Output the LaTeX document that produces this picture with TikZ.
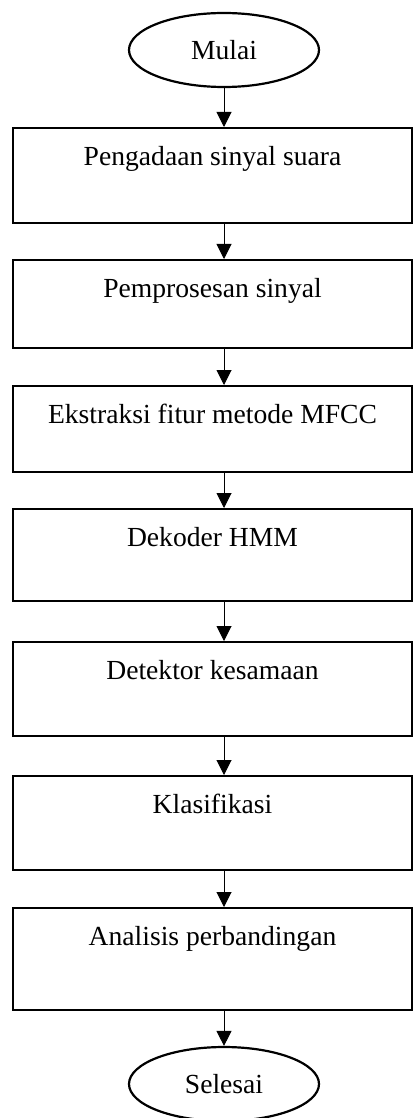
\documentclass[tikz,border=0pt]{standalone}
\usepackage{fontspec}
\setmainfont{Liberation Serif}
\usetikzlibrary{arrows.meta,shapes.geometric}

\begin{document}
\begin{tikzpicture}[x=0.5pt,y=-0.5pt,
    terminal/.style={ellipse,draw,line width=1.1pt,minimum width=95pt,minimum height=37pt,inner sep=0pt},
    proses/.style={draw,line width=1.1pt,anchor=north,minimum width=199.5pt,inner sep=0pt,text height=18.5pt,text depth=#1},
    panah/.style={-{Triangle[length=7.5pt,width=7.5pt]},line width=0.5pt},
    font=\fontsize{13.8}{16}\selectfont]
    \useasboundingbox (0,0) rectangle (413,1118);

    % Start
    \node[terminal] (mulai) at (224,50) {Mulai};

    % Process steps
    \node[proses=29pt] (sinyal) at (212.5,127) {Pengadaan sinyal suara};
    \node[proses=25.5pt] (olah) at (212.5,259) {Pemprosesan sinyal};
    \node[proses=24.5pt] (ekstraksi) at (212.5,385) {Ekstraksi fitur metode MFCC};
    \node[proses=27.5pt] (dekoder) at (212.5,508) {Dekoder HMM};
    \node[proses=28.5pt] (detektor) at (212.5,641) {Detektor kesamaan};
    \node[proses=28.5pt] (klasifikasi) at (212.5,775) {Klasifikasi};
    \node[proses=32.5pt] (analisis) at (212.5,907) {Analisis perbandingan};

    % End
    \node[terminal] (selesai) at (224,1084) {Selesai};

    % Arrows down the flow
    \draw[panah] (mulai) -- (mulai |- sinyal.north);
    \draw[panah] (sinyal.south -| mulai) -- (olah.north -| mulai);
    \draw[panah] (olah.south -| mulai) -- (ekstraksi.north -| mulai);
    \draw[panah] (ekstraksi.south -| mulai) -- (dekoder.north -| mulai);
    \draw[panah] (dekoder.south -| mulai) -- (detektor.north -| mulai);
    \draw[panah] (detektor.south -| mulai) -- (klasifikasi.north -| mulai);
    \draw[panah] (klasifikasi.south -| mulai) -- (analisis.north -| mulai);
    \draw[panah] (analisis.south -| mulai) -- (selesai);
\end{tikzpicture}
\end{document}
